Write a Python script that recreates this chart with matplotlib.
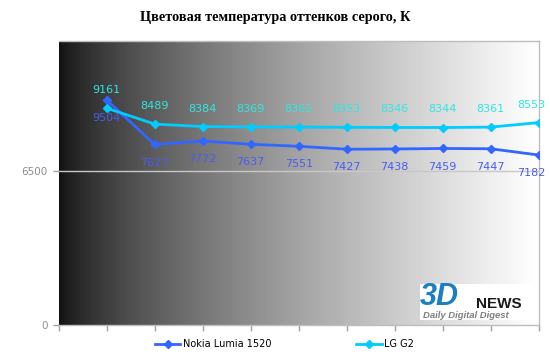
import numpy as np
import matplotlib.pyplot as plt
from matplotlib.lines import Line2D
from matplotlib.patches import Rectangle

# shades of grey 10%..100%, the 0% (black) step has no reading
steps = list(range(11))
nokia = [9504, 7627, 7772, 7637, 7551, 7427, 7438, 7459, 7447, 7182]
lg_g2 = [9161, 8489, 8384, 8369, 8362, 8353, 8346, 8344, 8361, 8553]
yticks = [0, 6500]

W, H = 550, 356
fig = plt.figure(figsize=(W / 100, H / 100), dpi=100)
ax = fig.add_axes([58.7 / W, 1 - 325 / H, 480 / W, 284 / H])

x = np.array(steps[1:]) - 1
ax.set_xlim(-1, 9)
ax.set_ylim(0, 12000)

# black to white gradient behind the data
t = np.linspace(0, 1, 480)
shade = np.tile(0.06 + 0.94 * t ** 0.7, (4, 1))
ax.imshow(shade, cmap='gray', vmin=0, vmax=1, aspect='auto', interpolation='nearest',
          extent=(-1, 9, 0, 12000), zorder=0)
ax.axhline(6500, color='#c8c8c8', lw=1, zorder=1)

ax.plot(x, nokia, color='#3366ff', lw=2, marker='D', ms=4, zorder=3, label='Nokia Lumia 1520')
ax.plot(x, lg_g2, color='#00ccff', lw=2, marker='D', ms=4, zorder=3, label='LG G2')

for i, (a, b) in enumerate(zip(nokia, lg_g2)):
    dx = -5 if i == len(nokia) - 1 else 0
    ax.annotate(str(a), (x[i], a), xytext=(dx, -13), textcoords='offset points',
                ha='center', va='center', fontsize=8, color='#4a5cf0', zorder=4)
    ax.annotate(str(b), (x[i], b), xytext=(dx, 13), textcoords='offset points',
                ha='center', va='center', fontsize=8, color='#2ee8e0', zorder=4)

ax.set_xticks(range(-1, 10))
ax.set_xticklabels([])
ax.set_yticks(yticks)
ax.set_yticklabels([str(v) for v in yticks])
ax.tick_params(axis='both', colors='#a0a0a0', labelcolor='#8c8c8c', labelsize=7.5,
               length=4, width=1)
ax.tick_params(axis='y', pad=4)
for side in ['top', 'right', 'bottom']:
    ax.spines[side].set_color('#bdbdbd')
    ax.spines[side].set_linewidth(1)
ax.spines['left'].set_visible(False)

fig.text(0.5, 1 - 18 / H, 'Цветовая температура оттенков серого, К', ha='center', va='center',
         fontsize=10.3, fontweight='bold', family='Liberation Serif')

handles = [Line2D([], [], color='#3366ff', lw=2, marker='D', ms=4),
           Line2D([], [], color='#00ccff', lw=2, marker='D', ms=4)]
fig.legend(handles, ['Nokia Lumia 1520', 'LG G2'], loc='center left', bbox_to_anchor=(155 / W, 1 - 344 / H),
           ncol=2, frameon=False, fontsize=7, handlelength=2.6, handletextpad=0.3,
           columnspacing=8.7, borderpad=0, borderaxespad=0)

# site logo
fig.patches.append(Rectangle((420 / W, 1 - 320 / H), 115 / W, 36 / H, transform=fig.transFigure,
                             facecolor='white', edgecolor='none', zorder=5))
fig.text(420 / W, 1 - 297 / H, '3D', fontsize=22, fontweight='bold', style='italic',
         color='#1b7fc4', family='Liberation Sans', va='center', zorder=6)
fig.text(476 / W, 1 - 304 / H, 'NEWS', fontsize=11, fontweight='bold',
         color='#1a1a1a', family='Liberation Sans', va='center', zorder=6)
fig.text(423 / W, 1 - 315 / H, 'Daily Digital Digest', fontsize=6.8, fontweight='bold', style='italic',
         color='#808080', family='Liberation Sans', va='center', zorder=6)

fig.savefig('out.png', dpi=100)
